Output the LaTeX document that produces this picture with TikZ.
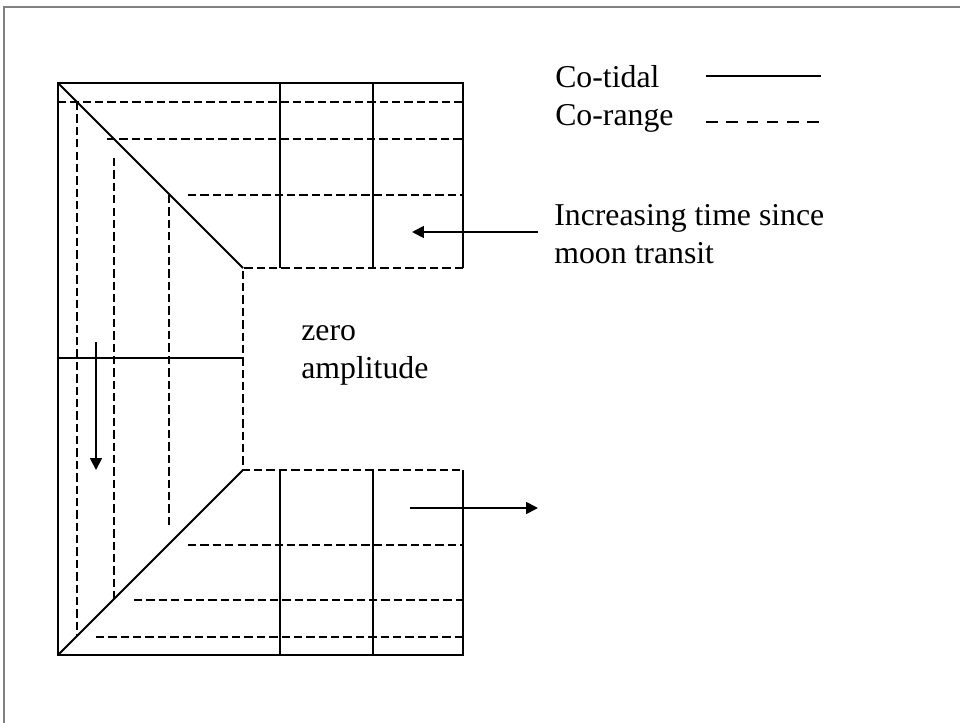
\documentclass[tikz,border=0pt]{standalone}
\usepackage{fontspec}
\setmainfont{Liberation Serif}
\usetikzlibrary{arrows.meta}

\begin{document}
\begin{tikzpicture}[
  x=0.025cm, y=-0.025cm,
  every node/.style={font=\fontsize{22.6}{27}\selectfont, inner sep=0pt, anchor=base west},
  tidalline/.style={line width=1.3pt},
  rangeline/.style={line width=1.3pt, dash pattern=on 5.9pt off 2.9pt},
  keyrange/.style={line width=1.3pt, dash pattern=on 8.3pt off 6.1pt},
  frame/.style={gray, line width=0.8pt},
  arrow/.style={-{Triangle[length=8.5pt, width=8.5pt]}, line width=1.3pt}
]

\useasboundingbox (0,0) rectangle (960,723);

% Frame
\draw[frame] (4,723) -- (4,7) -- (960,7);

% Outline of the basin
\coordinate (nw) at (58,83);
\coordinate (sw) at (58,655);
\coordinate (ne) at (463,83);
\coordinate (se) at (463,655);
\coordinate (znw) at (243,268);
\coordinate (zsw) at (243,470);
\coordinate (zne) at (463,268);
\coordinate (zse) at (463,470);

% Co-tidal lines
\draw[tidalline] (zne) -- (ne) -- (nw) -- (sw) -- (se) -- (zse);
\draw[tidalline] (nw) -- (znw);
\draw[tidalline] (sw) -- (zsw);
\draw[tidalline] (58,358) -- (243,358);
\draw[tidalline] (280,83) -- (280,268);
\draw[tidalline] (373,83) -- (373,268);
\draw[tidalline] (280,470) -- (280,655);
\draw[tidalline] (373,470) -- (373,655);

% Co-range lines
\draw[rangeline] (zne) -- (znw) -- (zsw) -- (zse);
\draw[rangeline] (58,102) -- (463,102);
\draw[rangeline] (107,139) -- (463,139);
\draw[rangeline] (188,195) -- (463,195);
\draw[rangeline] (96,637) -- (463,637);
\draw[rangeline] (134,600) -- (463,600);
\draw[rangeline] (188,545) -- (463,545);
\draw[rangeline] (77,102) -- (77,636);
\draw[rangeline] (114,158) -- (114,599);
\draw[rangeline] (169,195) -- (169,525);

% Legend
\node (cotidal) at (555,87) {Co-tidal};
\node (corange) at (555,125) {Co-range};
\coordinate (tidalA) at (706,76);
\coordinate (tidalB) at (821,76);
\coordinate (rangeA) at (706,122);
\coordinate (rangeB) at (821,122);
\draw[tidalline] (tidalA) -- (tidalB);
\draw[keyrange] (rangeA) -- (rangeB);

% Labels
\node (incr) at (554,225) {Increasing time since};
\node (moon) at (554,263) {moon transit};
\node (zero) at (301,340) {zero};
\node (ampl) at (301,378) {amplitude};

% Arrows
\coordinate (westS) at (538,232);
\coordinate (westE) at (412,232);
\coordinate (eastS) at (410,508);
\coordinate (eastE) at (538,508);
\coordinate (southS) at (96,342);
\coordinate (southE) at (96,470);
\draw[arrow] (westS) -- (westE);
\draw[arrow] (eastS) -- (eastE);
\draw[arrow] (southS) -- (southE);

\end{tikzpicture}
\end{document}
